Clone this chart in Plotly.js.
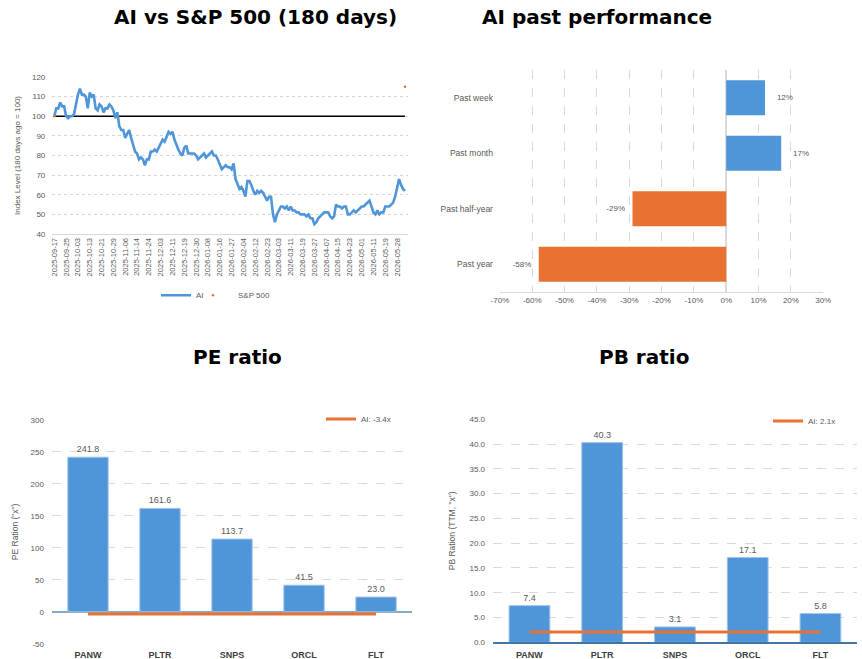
<!DOCTYPE html>
<html>
<head>
<meta charset="utf-8">
<script src="https://cdn.plot.ly/plotly-3.0.1.min.js"></script>
<style>
  html, body { margin: 0; padding: 0; background: #ffffff; }
  #chart { width: 862px; height: 659px; }
</style>
</head>
<body>
<div id="chart"></div>
<script>
// ---------- Data ----------
const dateTickLabels = [
  '2025-09-17','2025-09-25','2025-10-03','2025-10-13','2025-10-21','2025-10-29',
  '2025-11-06','2025-11-14','2025-11-24','2025-12-03','2025-12-11','2025-12-19',
  '2025-12-30','2026-01-08','2026-01-16','2026-01-27','2026-02-04','2026-02-12',
  '2026-02-23','2026-03-03','2026-03-11','2026-03-19','2026-03-27','2026-04-07',
  '2026-04-15','2026-04-23','2026-05-01','2026-05-11','2026-05-19','2026-05-28'
];
const tickEvery = 6; // trading days between date labels

const aiIndex = [
  100,104,104,107,105,105,100,99,100,100,
  101,106,111,114,111,111,110,104,112,110,
  111,104,103,106,105,102,104,104,106,105,
  103,99,102,95,93,93,89,91,93,89,
  86,82,81,78,79,78,75,78,78,82,
  82,83,82,84,86,88,87,90,92,91,
  92,88,85,83,81,80,84,85,81,81,
  81,81,80,78,79,80,81,79,80,81,
  82,80,80,78,75,73,74,75,74,74,
  73,76,68,65,63,64,62,59,67,67,
  65,62,60,62,61,62,61,59,57,59,
  59,50,46,50,52,54,54,53,54,52,
  54,52,52,51,51,50,50,50,49,50,
  48,48,45,46,48,49,50,51,51,51,
  49,48,49,55,54,54,53,54,54,50,
  50,51,52,51,52,53,54,54,55,56,
  57,54,51,50,52,50,51,51,54,54,
  54,55,56,59,63,68,65,63,62
];
const spIndexPos = [0, 178];
const spIndex = [100, 115];
const baseline = 100;

const perfCategories = ['Past week','Past month','Past half-year','Past year'];
const perfValues = [0.12, 0.17, -0.29, -0.58];
const perfTickVals = [-0.7,-0.6,-0.5,-0.4,-0.3,-0.2,-0.1,0,0.1,0.2,0.3];
const perfTickText = ['-70%','-60%','-50%','-40%','-30%','-20%','-10%','0%','10%','20%','30%'];

const peers = ['PANW','PLTR','SNPS','ORCL','FLT'];
const peValues = [241.8, 161.6, 113.7, 41.5, 23.0];
const aiPE = -3.4;
const peTickVals = [-50,0,50,100,150,200,250,300];
const peTickText = ['-50','0','50','100','150','200','250','300'];

const pbValues = [7.4, 40.3, 3.1, 17.1, 5.8];
const aiPB = 2.1;

// ---------- Styles ----------
const BLUE = '#4E95D9';
const ORANGE = '#E97132';
const GRAY = '#595959';
const FONT = 'Liberation Sans, Arial, sans-serif';
const TITLE_FONT = {family: 'DejaVu Sans, Verdana, sans-serif', size: 20, color: '#000000', weight: 'bold'};
const NB = '\u00a0';

const aiX = aiIndex.map((_, i) => i);
const tickVals = dateTickLabels.map((_, i) => i * tickEvery);

const traces = [
  {
    type: 'scatter', mode: 'lines', name: 'AI',
    x: aiX, y: aiIndex, xaxis: 'x', yaxis: 'y',
    line: {color: BLUE, width: 2.6}, legend: 'legend'
  },
  {
    type: 'scatter', mode: 'markers', name: 'S&P 500',
    x: spIndexPos, y: spIndex, xaxis: 'x', yaxis: 'y',
    marker: {color: ORANGE, size: 2.5}, legend: 'legend4'
  },
  {
    type: 'bar', orientation: 'h',
    x: perfValues, y: perfCategories, xaxis: 'x2', yaxis: 'y2',
    marker: {color: perfValues.map(v => v >= 0 ? BLUE : ORANGE)},
    width: 0.63,
    text: perfValues.map(v => {
      const s = Math.round(v * 100) + '%';
      return v >= 0 ? NB + NB + NB + NB + s : s + NB + NB;
    }),
    textposition: 'outside', cliponaxis: false,
    textfont: {family: FONT, size: 8, color: GRAY},
    showlegend: false, hoverinfo: 'x+y'
  },
  {
    type: 'bar', x: peers, y: peValues, xaxis: 'x3', yaxis: 'y3',
    marker: {color: BLUE, line: {color: '#9DC3E6', width: 1}},
    width: 0.56,
    texttemplate: '%{y:.1f}', textposition: 'outside', cliponaxis: false,
    textfont: {family: FONT, size: 9, color: GRAY},
    showlegend: false
  },
  {
    type: 'scatter', mode: 'lines', name: 'AI: -3.4x',
    x: peers, y: peers.map(() => aiPE), xaxis: 'x3', yaxis: 'y3',
    line: {color: ORANGE, width: 3}, legend: 'legend2'
  },
  {
    type: 'bar', x: peers, y: pbValues, xaxis: 'x4', yaxis: 'y4',
    marker: {color: BLUE, line: {color: '#9DC3E6', width: 1}},
    width: 0.56,
    texttemplate: '%{y:.1f}', textposition: 'outside', cliponaxis: false,
    textfont: {family: FONT, size: 9, color: GRAY},
    showlegend: false
  },
  {
    type: 'scatter', mode: 'lines', name: 'AI: 2.1x',
    x: peers, y: peers.map(() => aiPB), xaxis: 'x4', yaxis: 'y4',
    line: {color: ORANGE, width: 3}, legend: 'legend3'
  }
];

const tickFont = {family: FONT, size: 8, color: GRAY};
const legendFont = {family: FONT, size: 8, color: GRAY};

const layout = {
  width: 862, height: 659,
  margin: {l: 0, r: 0, t: 0, b: 0},
  paper_bgcolor: '#ffffff', plot_bgcolor: '#ffffff',
  font: {family: FONT, color: GRAY},
  barmode: 'group',
  // top-left line chart
  xaxis: {
    domain: [0.0607, 0.4737], anchor: 'y',
    range: [-1, 179.7], tickmode: 'array', tickvals: tickVals, ticktext: dateTickLabels,
    tickangle: -90, tickfont: {family: FONT, size: 7.5, color: GRAY},
    showgrid: false, zeroline: false, showline: true, linecolor: '#d9d9d9', ticks: ''
  },
  yaxis: {
    domain: [0.6449, 0.8832], anchor: 'x',
    range: [40, 120], dtick: 10, tickfont: tickFont, ticklabelstandoff: 6,
    gridcolor: '#d4d4d4', griddash: 'dot', zeroline: false, ticks: '',
    title: {text: 'Index Level (180 days ago = 100)', font: {family: FONT, size: 8, color: GRAY}, standoff: 10}
  },
  // top-right horizontal bars
  xaxis2: {
    domain: [0.580, 0.955], anchor: 'y2',
    range: [-0.7, 0.3], tickmode: 'array', tickvals: perfTickVals, ticktext: perfTickText,
    tickfont: tickFont, gridcolor: '#d9d9d9', griddash: 'dash',
    zeroline: true, zerolinecolor: '#d9d9d9', zerolinewidth: 1.5,
    showline: true, linecolor: '#d9d9d9', ticks: ''
  },
  yaxis2: {
    domain: [0.5569, 0.8938], anchor: 'x2',
    type: 'category', autorange: 'reversed',
    tickfont: {family: FONT, size: 8.5, color: GRAY}, ticks: '', showgrid: false,
    ticklabelstandoff: 6
  },
  // bottom-left PE
  xaxis3: {
    domain: [0.0603, 0.478], anchor: 'y3', type: 'category',
    tickfont: {family: FONT, size: 9, color: '#404040', weight: 'bold'},
    showgrid: false, zeroline: false, showline: false, ticks: '', ticklabelstandoff: 4
  },
  yaxis3: {
    domain: [0.0232, 0.3627], anchor: 'x3',
    range: [-50, 300], tickmode: 'array', tickvals: peTickVals, ticktext: peTickText,
    tickfont: tickFont, gridcolor: '#d9d9d9', griddash: 'dash', ticklabelstandoff: 7,
    zeroline: true, zerolinecolor: '#86A9CC', zerolinewidth: 2, ticks: '',
    title: {text: 'PE Ration ("x")', font: {family: FONT, size: 8.5, color: GRAY}, standoff: 10}
  },
  // bottom-right PB
  xaxis4: {
    domain: [0.572, 0.994], anchor: 'y4', type: 'category',
    tickfont: {family: FONT, size: 9, color: '#404040', weight: 'bold'},
    showgrid: false, zeroline: false, showline: true, linecolor: '#3E76A8', linewidth: 1.5, ticks: '',
    ticklabelstandoff: 3
  },
  yaxis4: {
    domain: [0.0253, 0.3637], anchor: 'x4',
    range: [0, 45], dtick: 5, tickformat: '.1f',
    tickfont: tickFont, gridcolor: '#d9d9d9', griddash: 'dash', ticklabelstandoff: 7,
    zeroline: false, ticks: '',
    title: {text: 'PB Ration (TTM, "x")', font: {family: FONT, size: 8.5, color: GRAY}, standoff: 12}
  },
  legend: {
    x: 156/862, y: 0.552, xanchor: 'left', yanchor: 'middle', orientation: 'h',
    font: legendFont, bgcolor: 'rgba(0,0,0,0)'
  },
  legend4: {
    x: 188/862, y: 0.552, xanchor: 'left', yanchor: 'middle', orientation: 'h', itemwidth: 40,
    font: legendFont, bgcolor: 'rgba(0,0,0,0)'
  },
  legend2: {
    x: 321/862, y: 0.364, xanchor: 'left', yanchor: 'middle',
    font: legendFont, bgcolor: 'rgba(0,0,0,0)'
  },
  legend3: {
    x: 768/862, y: 0.361, xanchor: 'left', yanchor: 'middle',
    font: legendFont, bgcolor: 'rgba(0,0,0,0)'
  },
  shapes: [
    {type: 'line', xref: 'x', yref: 'y', x0: 0, x1: aiIndex.length - 1, y0: baseline, y1: baseline,
     line: {color: '#000000', width: 1.3}, layer: 'between'}
  ],
  annotations: [
    {text: 'AI vs S&P 500 (180 days)', xref: 'paper', yref: 'paper', x: 255/862, y: 1 - 17/659,
     xanchor: 'center', yanchor: 'middle', showarrow: false, font: TITLE_FONT},
    {text: 'AI past performance', xref: 'paper', yref: 'paper', x: 597/862, y: 1 - 17/659,
     xanchor: 'center', yanchor: 'middle', showarrow: false, font: TITLE_FONT},
    {text: 'PE ratio', xref: 'paper', yref: 'paper', x: 237/862, y: 1 - 357/659,
     xanchor: 'center', yanchor: 'middle', showarrow: false, font: TITLE_FONT},
    {text: 'PB ratio', xref: 'paper', yref: 'paper', x: 644/862, y: 1 - 357/659,
     xanchor: 'center', yanchor: 'middle', showarrow: false, font: TITLE_FONT}
  ]
};

Plotly.newPlot('chart', traces, layout, {displayModeBar: false, staticPlot: true});
</script>
</body>
</html>
